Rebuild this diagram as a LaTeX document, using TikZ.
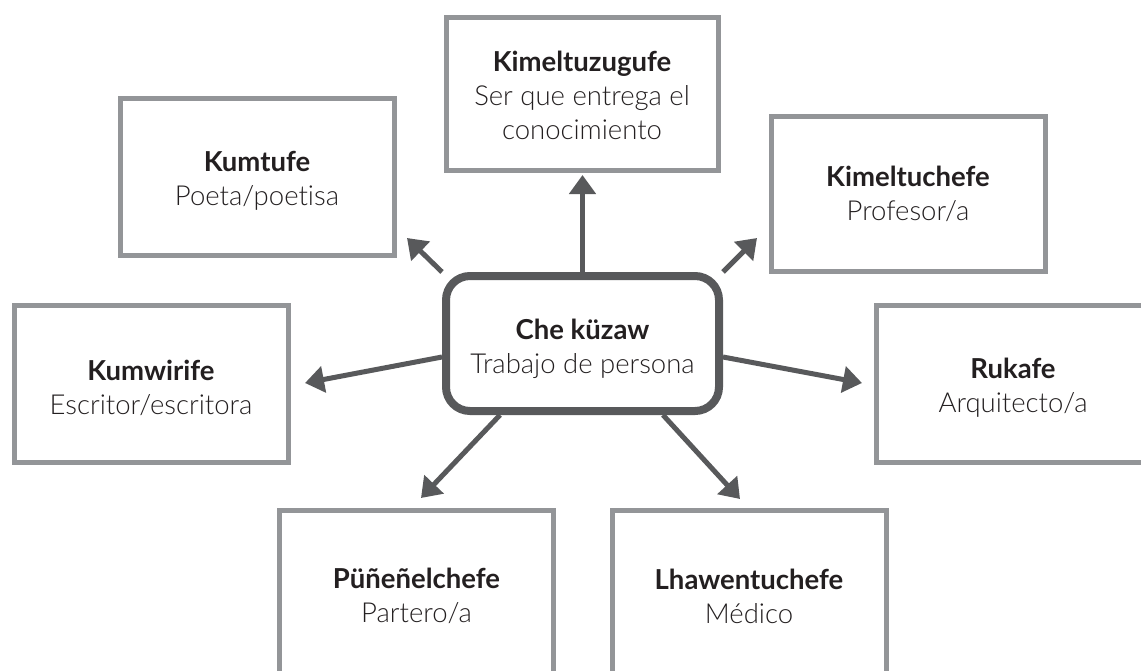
\documentclass[tikz,border=0pt]{standalone}
\usepackage{fontspec}
\setmainfont{Lato}[UprightFont=* Light, BoldFont=* Bold, Ligatures=NoCommon]
\usetikzlibrary{arrows.meta,calc,backgrounds}
\definecolor{boxgray}{HTML}{939598}
\definecolor{hubgray}{HTML}{58595B}
\definecolor{textdark}{HTML}{231F20}
\begin{document}
\begin{tikzpicture}[x=1pt,y=-1pt,
  item/.style={draw=boxgray, line width=5pt, fill=white, minimum width=274pt,
    minimum height=156pt, inner sep=0pt},
  hub/.style={draw=hubgray, line width=8pt, fill=white, rounded corners=24pt,
    minimum width=273pt, minimum height=135pt, inner sep=0pt},
  caption/.style={align=center, inner sep=0pt, text=textdark,
    font=\fontsize{27.5}{34}\selectfont},
  arr/.style={draw=hubgray, line width=5pt, -{Triangle[length=19pt,width=26pt]}}]
\useasboundingbox (0,0) rectangle (1141,670);
\clip (0,0) rectangle (1141,670);

% surrounding boxes
\node[item, minimum height=153pt, minimum width=272pt] (kz) at (582,93.5) {};
\node[item, minimum height=157pt] (km) at (257,176.5) {};
\node[item, minimum height=155pt] (kc) at (908,194) {};
\node[item, minimum height=157pt] (kw) at (151,383.5) {};
\node[item, minimum height=157pt] (rk) at (1013,383.5) {};
\node[item, minimum height=172pt] (pn) at (416.5,596) {};
\node[item, minimum height=172pt] (lh) at (749,596) {};

% central node
\node[hub] (che) at (582.5,343.5) {};

% box texts
\node[caption] (kz-t) at ($(kz)+(0,2)$) {\textbf{Kimeltuzugufe}\\Ser que entrega el\\conocimiento};
\node[caption] (km-t) at ($(km)+(0,4)$) {\textbf{Kumtufe}\\Poeta/poetisa};
\node[caption] (kc-t) at (kc) {\textbf{Kimeltuchefe}\\Profesor/a};
\node[caption] (kw-t) at ($(kw)+(0,4)$) {\textbf{Kumwirife}\\Escritor/escritora};
\node[caption] (rk-t) at ($(rk)+(0,4)$) {\textbf{Rukafe}\\Arquitecto/a};
\node[caption] (pn-t) at (pn) {\textbf{Püñeñelchefe}\\Partero/a};
\node[caption] (lh-t) at (lh) {\textbf{Lhawentuchefe}\\Médico};
\node[caption] (che-t) at ($(che)+(0,5)$) {\textbf{Che küzaw}\\Trabajo de persona};

% arrow tips
\coordinate (tkz) at (582.5,175);
\coordinate (tkm) at (407,238);
\coordinate (tkc) at (757,238);
\coordinate (tkw) at (305,383);
\coordinate (trk) at (862,383);
\coordinate (tpn) at (421,498);
\coordinate (tlh) at (740,499);

\begin{scope}[on background layer]
\draw[arr] (che.north) -- (tkz);
\draw[arr] (che.north west) -- (tkm);
\draw[arr] (che.north east) -- (tkc);
\draw[arr] ($(che.west)+(0,13.5)$) -- (tkw);
\draw[arr] ($(che.east)+(0,13.5)$) -- (trk);
\draw[arr] ($(che.south)+(-82.5,0)$) -- (tpn);
\draw[arr] ($(che.south)+(80.5,0)$) -- (tlh);
\end{scope}
\end{tikzpicture}
\end{document}
